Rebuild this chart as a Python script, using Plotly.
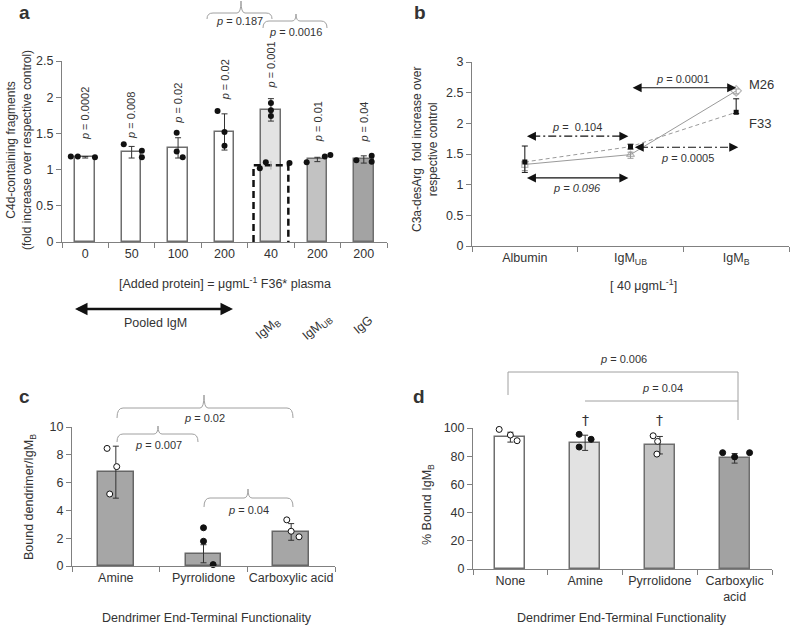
import plotly.graph_objects as go

W, H = 790, 626
FONT = "Liberation Sans, Arial, sans-serif"
TXT = "#333333"
AXC = "#808080"
BRACE = "#a0a0a0"

# ---- panel a: C4d fragments ----
a_labels = ["0", "50", "100", "200", "40", "200", "200"]
a_values = [1.17, 1.24, 1.30, 1.52, 1.82, 1.14, 1.14]
a_err_plus = [0.01, 0.08, 0.14, 0.25, 0.16, 0.03, 0.05]
a_err_minus = [0.01, 0.08, 0.14, 0.25, 0.15, 0.03, 0.05]
a_dots = [
    [1.18, 1.18, 1.17],
    [1.35, 1.26, 1.17],
    [1.51, 1.25, 1.17],
    [1.81, 1.52, 1.33],
    [1.92, 1.82, 1.74],
    [1.10, 1.18, 1.20],
    [1.13, 1.19, 1.11],
]
a_pvalues = ["0.0002", "0.008", "0.02", "0.02", "0.001", "0.01", "0.04"]
a_dashed_value = 1.06
a_dashed_err = 0.06
a_dashed_dots = [1.02, 1.10, 1.09]

# ---- panel b: C3a-desArg ----
b_labels = ["Albumin", "IgM<sub>UB</sub>", "IgM<sub>B</sub>"]
b_m26 = [1.33, 1.49, 2.53]
b_m26_err_plus = [0.04, 0.04, 0.03]
b_m26_err_minus = [0.10, 0.06, 0.05]
b_f33 = [1.37, 1.62, 2.18]
b_f33_err_plus = [0.26, 0.04, 0.22]
b_f33_err_minus = [0.17, 0.04, 0.02]

# ---- panel c: bound dendrimer ----
c_labels = ["Amine", "Pyrrolidone", "Carboxylic acid"]
c_values = [6.75, 0.88, 2.45]
c_err = [1.87, 0.65, 0.60]
c_dots = [[8.46, 7.15, 5.18], [2.75, 1.78, 0.10], [3.32, 2.50, 2.10]]

# ---- panel d: % bound IgM_B ----
d_labels = ["None", "Amine", "Pyrrolidone", "Carboxylic<br>acid"]
d_values = [93.5, 89.5, 87.8, 78.5]
d_err = [3.5, 5.4, 6.2, 3.4]
d_dots = [[99.0, 95.0, 91.0], [95.5, 92.0, 86.5], [94.5, 90.5, 81.5], [82.5, 79.5, 82.5]]

# jitter of the replicate dots (category units) and their style
a_jitter = [[-0.31, -0.16, 0.21], [-0.17, 0.22, 0.22], [-0.03, -0.03, 0.10],
            [-0.15, 0.0, 0.0], [0.0, 0.0, 0.0], [-0.23, 0.16, 0.28], [-0.16, 0.17, 0.17]]
a_dashed_jitter = [-0.24, -0.11, 0.40]
c_jitter = [[-0.10, 0.01, -0.07], [0.0, 0.0, 0.11], [-0.05, 0.0, 0.09]]
c_filled = [False, True, False]
d_jitter = [[-0.15, 0.0, 0.09], [-0.08, 0.08, -0.08], [-0.09, -0.03, -0.04], [-0.16, 0.0, 0.2]]
d_filled = [False, True, False, True]

a_colors = ["white", "white", "white", "white", "#e3e3e3", "#c2c2c2", "#a3a3a3"]
c_color = "#a6a6a6"
d_colors = ["white", "#e2e2e2", "#c3c3c3", "#a2a2a2"]


def xp(px):
    return px / W


def yp(py):
    return 1 - py / H


def flat_dots(dots, jitter):
    xs, ys = [], []
    for i, (vals, offs) in enumerate(zip(dots, jitter)):
        for v, o in zip(vals, offs):
            xs.append(i + o)
            ys.append(v)
    return xs, ys


def dot_trace(dots, jitter, filled, xa, ya):
    xs, ys = flat_dots(dots, jitter)
    fills = []
    for i, vals in enumerate(dots):
        fills += ["#111111" if filled[i] else "white"] * len(vals)
    return go.Scatter(
        x=xs, y=ys, mode="markers", xaxis=xa, yaxis=ya, cliponaxis=False,
        marker=dict(size=6, color=fills, line=dict(color="#111111", width=1)),
    )


fig = go.Figure()

# panel a
fig.add_trace(
    go.Bar(
        x=list(range(len(a_values))), y=a_values, width=0.42,
        marker=dict(color=a_colors, line=dict(color="#6e6e6e", width=1.5)),
        error_y=dict(type="data", symmetric=False, array=a_err_plus,
                     arrayminus=a_err_minus, color="#333", thickness=1, width=3),
        xaxis="x", yaxis="y",
    )
)
ib = a_labels.index("40")
w = 0.75
fig.add_trace(
    go.Scatter(
        x=[ib - w / 2, ib - w / 2, ib + w / 2, ib + w / 2],
        y=[0, a_dashed_value, a_dashed_value, 0],
        mode="lines", line=dict(color="#111111", width=2.5, dash="7px,4px"),
        xaxis="x", yaxis="y",
    )
)
fig.add_trace(
    go.Scatter(
        x=[ib], y=[a_dashed_value], mode="markers", marker=dict(size=1, color="rgba(0,0,0,0)"),
        error_y=dict(type="data", array=[a_dashed_err], color="#aaaaaa", thickness=1, width=0),
        xaxis="x", yaxis="y",
    )
)
ax_, ay_ = flat_dots(a_dots, a_jitter)
ax_ += [ib + o for o in a_dashed_jitter]
ay_ += a_dashed_dots
fig.add_trace(
    go.Scatter(x=ax_, y=ay_, mode="markers", marker=dict(size=6, color="#111111"),
               xaxis="x", yaxis="y", cliponaxis=False)
)

# panel b
fig.add_trace(
    go.Scatter(
        x=[0, 1, 2], y=b_m26, mode="lines+markers", name="M26",
        line=dict(color="#9a9a9a", width=1),
        marker=dict(symbol=["square-open", "triangle-up-open", "diamond-open"],
                    size=[6, 7, 8], color="#9a9a9a", line=dict(width=1.2)),
        error_y=dict(type="data", symmetric=False, array=b_m26_err_plus,
                     arrayminus=b_m26_err_minus, color="#9a9a9a", thickness=1, width=3),
        xaxis="x2", yaxis="y2",
    )
)
fig.add_trace(
    go.Scatter(
        x=[0, 1, 2], y=b_f33, mode="lines+markers", name="F33",
        line=dict(color="#9a9a9a", width=1, dash="4px,3px"),
        marker=dict(symbol="square", size=5, color="#111111"),
        error_y=dict(type="data", symmetric=False, array=b_f33_err_plus,
                     arrayminus=b_f33_err_minus, color="#111111", thickness=1, width=3),
        xaxis="x2", yaxis="y2",
    )
)

# panel c
fig.add_trace(
    go.Bar(
        x=list(range(len(c_values))), y=c_values, width=0.41,
        marker=dict(color=c_color, line=dict(color="#666666", width=1.5)),
        error_y=dict(type="data", array=c_err, color="#333", thickness=1, width=3),
        xaxis="x3", yaxis="y3",
    )
)
fig.add_trace(dot_trace(c_dots, c_jitter, c_filled, "x3", "y3"))

# panel d
fig.add_trace(
    go.Bar(
        x=list(range(len(d_values))), y=d_values, width=0.40,
        marker=dict(color=d_colors, line=dict(color="#6e6e6e", width=1.5)),
        error_y=dict(type="data", array=d_err, color="#333", thickness=1, width=3),
        xaxis="x4", yaxis="y4",
    )
)
fig.add_trace(dot_trace(d_dots, d_jitter, d_filled, "x4", "y4"))

AX = dict(showline=True, linecolor=AXC, linewidth=1, showgrid=False, zeroline=False,
          automargin=False, tickfont=dict(size=12.5, color=TXT, family=FONT), fixedrange=True)


def xcat(domain, labels, anchor):
    n = len(labels)
    return dict(AX, domain=domain, anchor=anchor, range=[-0.5, n - 0.5],
                tickmode="array", tickvals=list(range(n)), ticktext=labels, ticks="",
                minor=dict(tickmode="array", tickvals=[i - 0.5 for i in range(n + 1)],
                           ticks="outside", ticklen=5, tickcolor=AXC))


def ylin(domain, top, step, anchor):
    return dict(AX, domain=domain, anchor=anchor, range=[0, top], tickmode="linear",
                tick0=0, dtick=step, ticks="outside", ticklen=5, tickcolor=AXC)


fig.update_layout(
    template="none",
    width=W, height=H, margin=dict(l=0, r=0, t=0, b=0, autoexpand=False),
    paper_bgcolor="white", plot_bgcolor="white", showlegend=False,
    bargap=0, font=dict(family=FONT, color=TXT, size=12),
    xaxis=xcat([xp(62), xp(387)], a_labels, "y"),
    yaxis=ylin([yp(242), yp(61)], 2.5, 0.5, "x"),
    xaxis2=xcat([xp(472), xp(789)], b_labels, "y2"),
    yaxis2=ylin([yp(246), yp(62)], 3, 0.5, "x2"),
    xaxis3=xcat([xp(72), xp(335)], c_labels, "y3"),
    yaxis3=ylin([yp(566), yp(427)], 10, 2, "x3"),
    xaxis4=xcat([xp(473), xp(772)], d_labels, "y4"),
    yaxis4=ylin([yp(569), yp(428)], 100, 20, "x4"),
)

ann = []
shapes = []


def text(t, x, y, size=12, angle=0, **kw):
    d = dict(text=t, x=xp(x), y=yp(y), xref="paper", yref="paper", showarrow=False,
             xanchor="center", yanchor="middle", textangle=angle,
             font=dict(size=size, color=TXT, family=FONT))
    d.update(kw)
    ann.append(d)


def brace(x0, x1, xc, y_line, y_end, y_tip, dx=6, ds=4):
    path = (
        f"M {xp(x0)},{yp(y_end)} Q {xp(x0)},{yp(y_line)} {xp(x0 + dx)},{yp(y_line)} "
        f"L {xp(xc - ds)},{yp(y_line)} Q {xp(xc)},{yp(y_line)} {xp(xc)},{yp(y_tip)} "
        f"Q {xp(xc)},{yp(y_line)} {xp(xc + ds)},{yp(y_line)} "
        f"L {xp(x1 - dx)},{yp(y_line)} Q {xp(x1)},{yp(y_line)} {xp(x1)},{yp(y_end)}"
    )
    shapes.append(dict(type="path", xref="paper", yref="paper", path=path,
                       line=dict(color=BRACE, width=1)))


def arrowheads(xref, yref, x0, x1, y, width, size):
    for tip, off in ((x1, -10), (x0, 10)):
        ann.append(dict(x=tip, y=y, xref=xref, yref=yref, ax=off, ay=0, text="",
                        showarrow=True, arrowhead=2, arrowsize=size, arrowwidth=width,
                        arrowcolor="#111111"))


# panel labels
for lab, x, y in (("a", 24, 13), ("b", 420, 13), ("c", 24, 396), ("d", 419, 396)):
    text(f"<b>{lab}</b>", x, y, size=19)

# panel a texts
text("C4d-containing fragments<br>(fold increase over respective control)", 19, 150, 12, -90)
text("[Added protein] = μgmL<sup>-1</sup> F36* plasma", 225, 283, 12.5)
text("Pooled IgM", 155, 323, 12.5)
text("IgM<sub>B</sub>", 268, 329, 12.5, -40)
text("IgM<sub>UB</sub>", 317, 328, 12.5, -40)
text("IgG", 363, 325, 12.5, -40)
a_plabel_mid = [1.77, 1.75, 1.91, 2.24, 2.45, 1.66, 1.66]
for i, (p, m) in enumerate(zip(a_pvalues, a_plabel_mid)):
    ann.append(dict(text=f"<i>p</i> = {p}", x=i, y=m, xref="x", yref="y", showarrow=False,
                    textangle=-90, xanchor="center", yanchor="middle",
                    font=dict(size=11, color=TXT, family=FONT)))
brace(207, 272, 241, 13, 19, 1)
brace(263, 327, 296, 21, 28, 14)
text("<i>p</i> = 0.187", 239, 21, 11)
text("<i>p</i> = 0.0016", 295, 32, 11)
shapes.append(dict(type="line", xref="paper", yref="paper", x0=xp(79), x1=xp(229),
                   y0=yp(309), y1=yp(309), line=dict(color="#111111", width=2.5)))
arrowheads("paper", "paper", xp(75), xp(233), yp(309), 2.5, 1.0)

# panel b texts
text("C3a-desArg  fold increase over<br>respective control", 425, 150, 12, -90)
text("[ 40 μgmL<sup>-1</sup>]", 643, 285, 12.5)
ann.append(dict(text="M26", x=2.1, y=b_m26[2] + 0.1, xref="x2", yref="y2", showarrow=False,
                xanchor="left", yanchor="middle", font=dict(size=13, color=TXT, family=FONT)))
ann.append(dict(text="F33", x=2.1, y=b_f33[2] - 0.18, xref="x2", yref="y2", showarrow=False,
                xanchor="left", yanchor="middle", font=dict(size=13, color=TXT, family=FONT)))
b_arrows = [
    (1.02, 2.0, 2.58, "solid", "<i>p</i> = 0.0001", 1.49, 2.72),
    (0.02, 0.98, 1.79, "8px,3px,2px,3px", "<i>p</i> =  0.104", 0.49, 1.94),
    (1.04, 2.02, 1.61, "8px,3px,2px,3px", "<i>p</i> = 0.0005", 1.54, 1.44),
    (0.02, 0.98, 1.11, "solid", "<i>p = 0.096</i>", 0.49, 0.95),
]
for x0, x1, y, dash, lab, tx, ty in b_arrows:
    shapes.append(dict(type="line", xref="x2", yref="y2", x0=x0 + 0.05, x1=x1 - 0.05, y0=y, y1=y,
                       line=dict(color="#111111", width=1.2, dash=dash)))
    arrowheads("x2", "y2", x0, x1, y, 1.2, 1.5)
    ann.append(dict(text=lab, x=tx, y=ty, xref="x2", yref="y2", showarrow=False,
                    xanchor="center", yanchor="middle",
                    font=dict(size=11, color=TXT, family=FONT)))

# panel c texts
text("Bound dendrimer/IgM<sub>B</sub>", 30, 497, 12.5, -90)
text("Dendrimer End-Terminal Functionality", 207, 618, 12.5)
brace(117, 293, 204, 408, 418, 395)
brace(117, 198, 158, 434, 442, 426)
brace(204, 293, 248, 498, 507, 489)
text("<i>p</i> = 0.02", 204, 418, 11)
text("<i>p</i> = 0.007", 158, 445, 11)
text("<i>p</i> = 0.04", 248, 510, 11)

# panel d texts
text("% Bound IgM<sub>B</sub>", 428, 505, 12.5, -90)
text("Dendrimer End-Terminal Functionality", 622, 618, 12.5)
shapes.append(dict(type="path", xref="paper", yref="paper",
                   path=f"M {xp(508)},{yp(395)} L {xp(508)},{yp(372)} L {xp(738)},{yp(372)} L {xp(738)},{yp(420)}",
                   line=dict(color=BRACE, width=1)))
shapes.append(dict(type="line", xref="paper", yref="paper", x0=xp(585), x1=xp(738),
                   y0=yp(401), y1=yp(401), line=dict(color=BRACE, width=1)))
text("<i>p</i> = 0.006", 623, 359, 11)
text("<i>p</i> = 0.04", 662, 388, 11)
for i in (1, 2):
    ann.append(dict(text="†", x=i, y=yp(420), xref="x4", yref="paper", showarrow=False,
                    xanchor="center", yanchor="middle",
                    font=dict(size=14, color="#333333", family="DejaVu Sans")))

fig.update_layout(annotations=ann, shapes=shapes)
fig.write_html("out.html", config={"displayModeBar": False},
               post_script="document.body.style.margin='0';")
